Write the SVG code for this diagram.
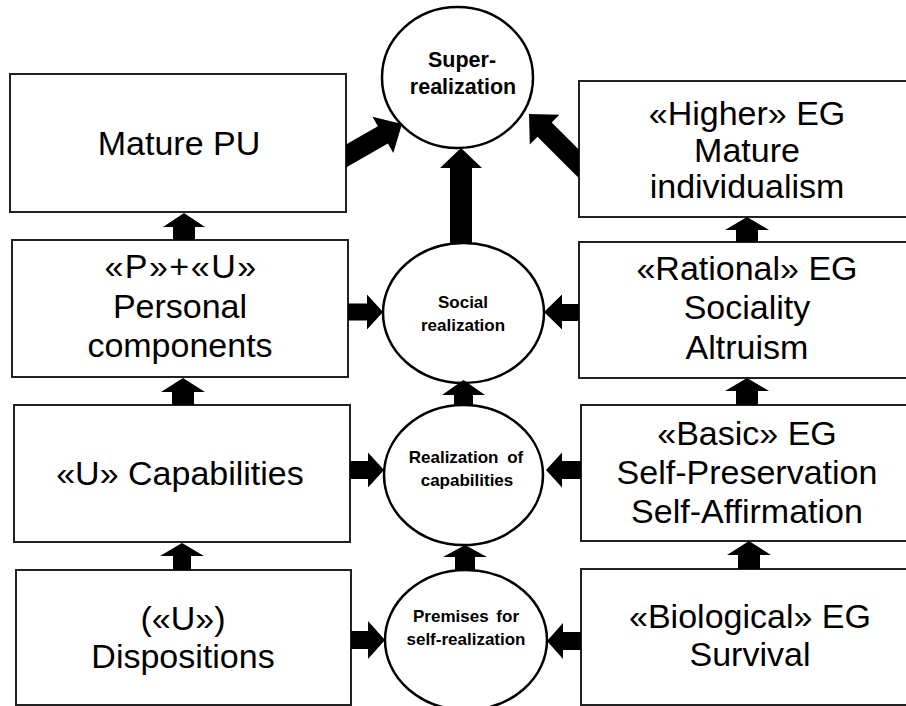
<svg xmlns="http://www.w3.org/2000/svg" width="906" height="706" viewBox="0 0 906 706">
<style>
.box{fill:#fff;stroke:#222;stroke-width:2}
.circ{fill:#fff;stroke:#000;stroke-width:2.5}
.bt{font-family:"Liberation Sans",Arial,sans-serif;font-size:34px;fill:#000;text-anchor:middle}
.ct{font-family:"Liberation Sans",Arial,sans-serif;font-weight:bold;fill:#000;text-anchor:middle}
.arr{fill:#000;stroke:none}
</style>
<rect width="906" height="706" fill="#fff"/>
<g id="mature-pu">
<rect class="box" x="10" y="74" width="336" height="138"/>
<text class="bt" x="179" y="155">Mature PU</text>
</g>
<g id="personal-components">
<rect class="box" x="12" y="240" width="336" height="137"/>
<text class="bt" x="181" y="278" letter-spacing="1.5">«P»+«U»</text>
<text class="bt" x="180" y="318">Personal</text>
<text class="bt" x="180" y="357">components</text>
</g>
<g id="capabilities">
<rect class="box" x="14" y="405" width="336" height="137"/>
<text class="bt" x="180" y="485">«U» Capabilities</text>
</g>
<g id="dispositions">
<rect class="box" x="16" y="570" width="335" height="135"/>
<text class="bt" x="183" y="630">(«U»)</text>
<text class="bt" x="183" y="668">Dispositions</text>
</g>
<g id="higher-eg">
<rect class="box" x="579" y="81" width="335" height="136"/>
<text class="bt" x="747" y="125">«Higher» EG</text>
<text class="bt" x="747" y="162">Mature</text>
<text class="bt" x="747" y="198">individualism</text>
</g>
<g id="rational-eg">
<rect class="box" x="579" y="242" width="335" height="136"/>
<text class="bt" x="747" y="280">«Rational» EG</text>
<text class="bt" x="747" y="319">Sociality</text>
<text class="bt" x="747" y="359">Altruism</text>
</g>
<g id="basic-eg">
<rect class="box" x="581" y="405" width="333" height="136"/>
<text class="bt" x="747" y="445">«Basic» EG</text>
<text class="bt" x="747" y="484">Self-Preservation</text>
<text class="bt" x="747" y="523">Self-Affirmation</text>
</g>
<g id="biological-eg">
<rect class="box" x="581" y="569" width="333" height="136"/>
<text class="bt" x="750" y="628">«Biological» EG</text>
<text class="bt" x="750" y="666">Survival</text>
</g>
<g id="super-realization">
<ellipse class="circ" cx="457.5" cy="77.5" rx="75.5" ry="70.5"/>
<text class="ct" x="462" y="67" font-size="21.5">Super-</text>
<text class="ct" x="463" y="94" font-size="21.5">realization</text>
</g>
<g id="social-realization">
<ellipse class="circ" cx="463.5" cy="313" rx="80.5" ry="70"/>
<text class="ct" x="463" y="308" font-size="17">Social</text>
<text class="ct" x="463" y="331" font-size="17">realization</text>
</g>
<g id="realization-of-capabilities">
<ellipse class="circ" cx="463.5" cy="475" rx="79.5" ry="70"/>
<text class="ct" x="466" y="463" font-size="17" word-spacing="4">Realization of</text>
<text class="ct" x="467" y="486" font-size="17">capabilities</text>
</g>
<g id="premises">
<ellipse class="circ" cx="466" cy="640" rx="81" ry="70"/>
<text class="ct" x="466" y="622" font-size="17" word-spacing="3">Premises for</text>
<text class="ct" x="466" y="645" font-size="17">self-realization</text>
</g>
<g id="connectors">
<polygon class="arr" points="346,144.5 377.9,126.2 372.5,116.7 402,124 393.3,153.1 387.9,143.6 346,167.6"/>
<polygon class="arr" points="579,149.8 551.7,122.5 559.4,114.8 529,114 529.8,144.4 537.5,136.7 579,178.2"/>
<polygon class="arr" points="461,148 482,168 472,168 472,243 450,243 450,168 440,168"/>
<polygon class="arr" points="463.5,380 485,395 473,395 473,405 454,405 454,395 442,395"/>
<polygon class="arr" points="465,545 487,557 475,557 475,570 455,570 455,557 443,557"/>
<polygon class="arr" points="184,213 205,227 195,227 195,240 173,240 173,227 163,227"/>
<polygon class="arr" points="183,378 205,392 194,392 194,405 172,405 172,392 161,392"/>
<polygon class="arr" points="182,543 204,556 191,556 191,570 173,570 173,556 160,556"/>
<polygon class="arr" points="747,217 769,230 758,230 758,242 736,242 736,230 725,230"/>
<polygon class="arr" points="747,378 769,391 758,391 758,405 736,405 736,391 725,391"/>
<polygon class="arr" points="749,541 771,555 760,555 760,569 738,569 738,555 727,555"/>
<polygon class="arr" points="383,312 367,294.5 367,303.5 348,303.5 348,320.5 367,320.5 367,329.5"/>
<polygon class="arr" points="384,470 368,452.5 368,461 350,461 350,479 368,479 368,487.5"/>
<polygon class="arr" points="385,640 368,621 368,631 351,631 351,649 368,649 368,659"/>
<polygon class="arr" points="544,312 562,294.5 562,304 579,304 579,321 562,321 562,329.5"/>
<polygon class="arr" points="546,470 562,452.5 562,461 581,461 581,479 562,479 562,487.5"/>
<polygon class="arr" points="547,641 563,623 563,632 581,632 581,650 563,650 563,659"/>
</g>
</svg>
